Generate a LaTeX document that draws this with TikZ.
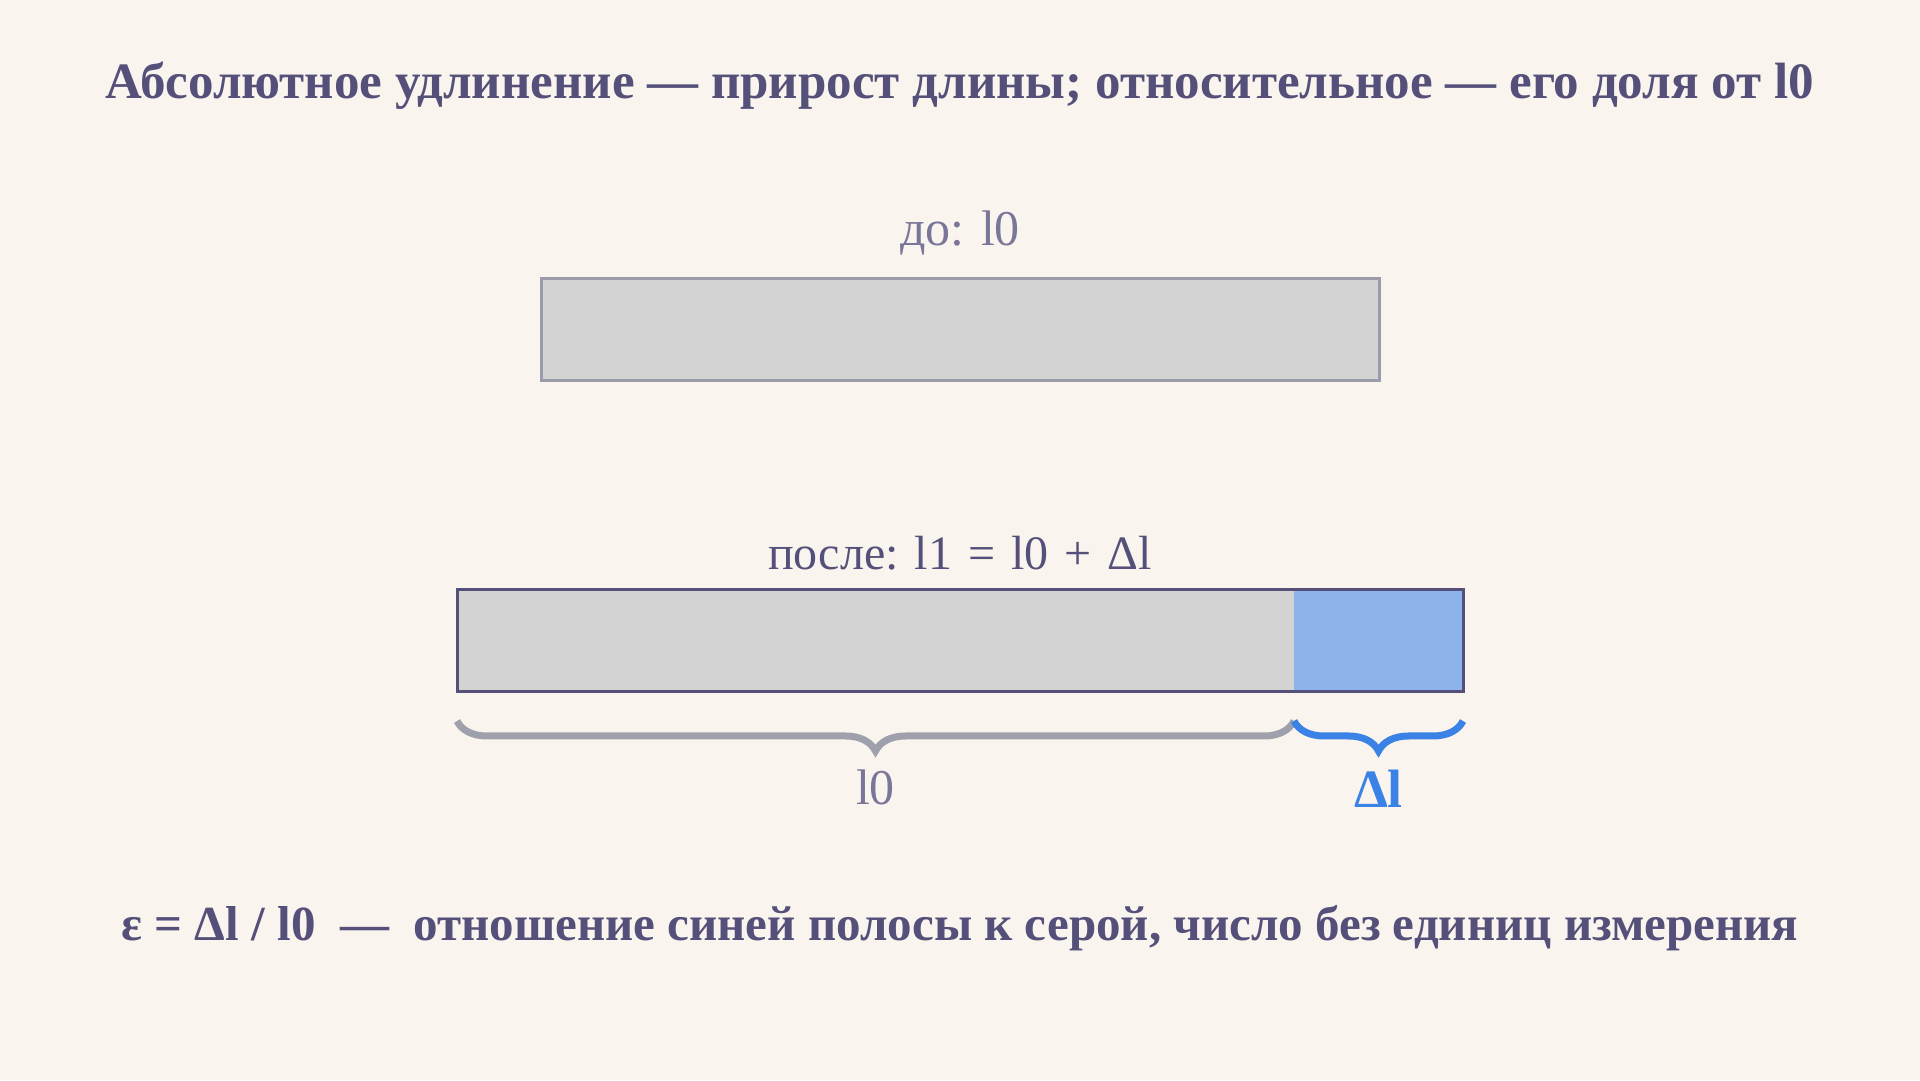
\documentclass[tikz,border=0pt]{standalone}
\usepackage{fontspec}
\setmainfont{Liberation Serif}
\usetikzlibrary{positioning, decorations.pathreplacing}

\definecolor{bgcream}{HTML}{FAF4EE}
\definecolor{inkdark}{HTML}{55507A}
\definecolor{inksoft}{HTML}{7A7699}
\definecolor{bargray}{HTML}{D3D3D3}
\definecolor{edgegray}{HTML}{9A9BAB}
\definecolor{bracegray}{HTML}{9EA1AB}
\definecolor{growblue}{HTML}{8DB4EA}
\definecolor{braceblue}{HTML}{3A82E6}

\begin{document}
\begin{tikzpicture}
        [x=1pt, y=1pt, every node/.style={inner sep=0, outer sep=0},
         bar/.style={minimum height=102pt, draw=none},
         brc/.style={decorate, decoration={brace, mirror, amplitude=30pt}, line width=7pt}]

        \fill[bgcream] (0, 0) rectangle (1920, 1080);
        \useasboundingbox (0, 0) rectangle (1920, 1080);

        \node[text=inkdark, font=\fontsize{51}{60}\selectfont\bfseries] (title) at (960, 994)
          {Абсолютное удлинение — прирост длины; относительное — его доля от l0};

        % before
        \node[text=inksoft, font=\fontsize{50}{60}\selectfont] (lbefore) at (960, 847) {до: l0};
        \node[bar, minimum width=838pt, fill=bargray, draw=edgegray, line width=3pt] (before) at (960, 750) {};

        % after
        \node[text=inkdark, font=\fontsize{48}{60}\selectfont] (lafter) at (960, 527)
          {после: l1\hspace{4pt} =\hspace{4pt} l0\hspace{4pt} +\hspace{4pt} Δl};
        \node[bar, minimum width=837pt, fill=bargray, anchor=west] (after) at (457, 439) {};
        \node[bar, minimum width=169pt, fill=growblue, right=0pt of after] (grow) {};
        \draw[inkdark, line width=3pt] (after.south west) rectangle (grow.north east);

        % braces
        \draw[brc, bracegray] ([yshift=-29pt]after.south west) -- ([yshift=-29pt]after.south east)
          node[midway, below=49pt, text=inksoft, font=\fontsize{50}{60}\selectfont] (ll0) {l0};
        \draw[brc, braceblue] ([yshift=-29pt]grow.south west) -- ([yshift=-29pt]grow.south east)
          node[midway, below=49pt, text=braceblue, font=\fontsize{54}{60}\selectfont\bfseries] (ldl) {Δl};

        \node[text=inkdark, font=\fontsize{49}{60}\selectfont\bfseries] (note) at (960, 152)
          {ε = Δl / l0 \ — \ отношение синей полосы к серой, число без единиц измерения};

      \end{tikzpicture}
\end{document}
